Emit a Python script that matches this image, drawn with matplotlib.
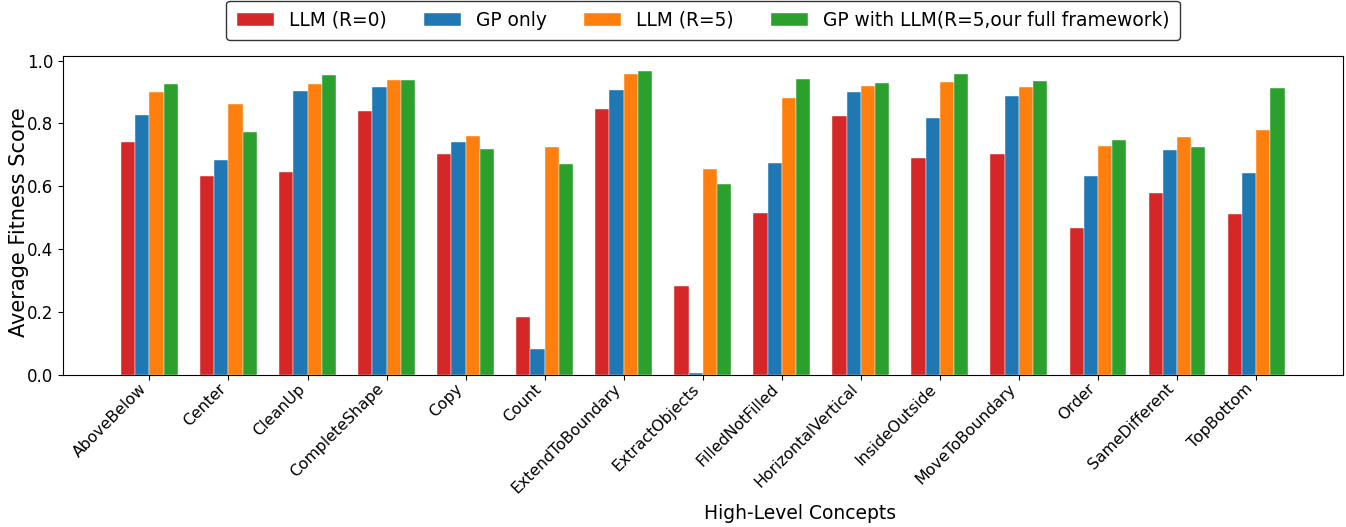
import matplotlib
matplotlib.use("Agg")
import matplotlib.pyplot as plt
import numpy as np

categories = ["AboveBelow", "Center", "CleanUp", "CompleteShape", "Copy", "Count",
              "ExtendToBoundary", "ExtractObjects", "FilledNotFilled", "HorizontalVertical",
              "InsideOutside", "MoveToBoundary", "Order", "SameDifferent", "TopBottom"]

llm_r0 = [0.741, 0.633, 0.644, 0.839, 0.702, 0.184, 0.845, 0.284, 0.516, 0.825,
          0.689, 0.703, 0.468, 0.578, 0.511]
gp_only = [0.826, 0.684, 0.903, 0.915, 0.741, 0.084, 0.907, 0.005, 0.674, 0.899,
           0.818, 0.887, 0.634, 0.715, 0.643]
llm_r5 = [0.899, 0.861, 0.924, 0.939, 0.759, 0.726, 0.956, 0.654, 0.882, 0.920,
          0.933, 0.916, 0.729, 0.758, 0.778]
gp_llm = [0.925, 0.773, 0.954, 0.937, 0.719, 0.671, 0.967, 0.606, 0.942, 0.929,
          0.956, 0.935, 0.746, 0.726, 0.913]

series = [
    ("LLM (R=0)", llm_r0, "#d62728"),
    ("GP only", gp_only, "#1f77b4"),
    ("LLM (R=5)", llm_r5, "#ff7f0e"),
    ("GP with LLM(R=5,our full framework)", gp_llm, "#2ca02c"),
]

fig = plt.figure(figsize=(13.46, 5.27), dpi=100)
ax = fig.add_axes([63.3 / 1346, 1 - 375 / 527, (1343 - 63.3) / 1346, (375 - 55.7) / 527])

x = np.arange(len(categories))
w = 0.18
for i, (label, vals, color) in enumerate(series):
    ax.bar(x + (i - 1.5) * w, vals, w, label=label, color=color,
           edgecolor="white", linewidth=0.3)

ax.set_xticks(x)
ax.set_xticklabels(categories, rotation=45, ha="right", fontsize=11.3)
ax.tick_params(axis="x", pad=1)
ax.tick_params(axis="y", labelsize=12)
ax.set_xlim(-1.09, len(categories) - 1 + 1.1)
ax.set_ylabel("Average Fitness Score", fontsize=15)
ax.set_xlabel("High-Level Concepts", fontsize=13.5)
ax.xaxis.set_label_coords((800 - 63.3) / 1279.7, -(504 - 375) / 319.3)
ax.yaxis.set_label_coords(-0.027, 0.48)

ax.legend(loc="lower center", bbox_to_anchor=(0.5, 1.049), ncol=4, fontsize=13.4,
          frameon=True, edgecolor="black", fancybox=True, borderaxespad=0,
          borderpad=0.55)

fig.savefig("out.png", dpi=100)
